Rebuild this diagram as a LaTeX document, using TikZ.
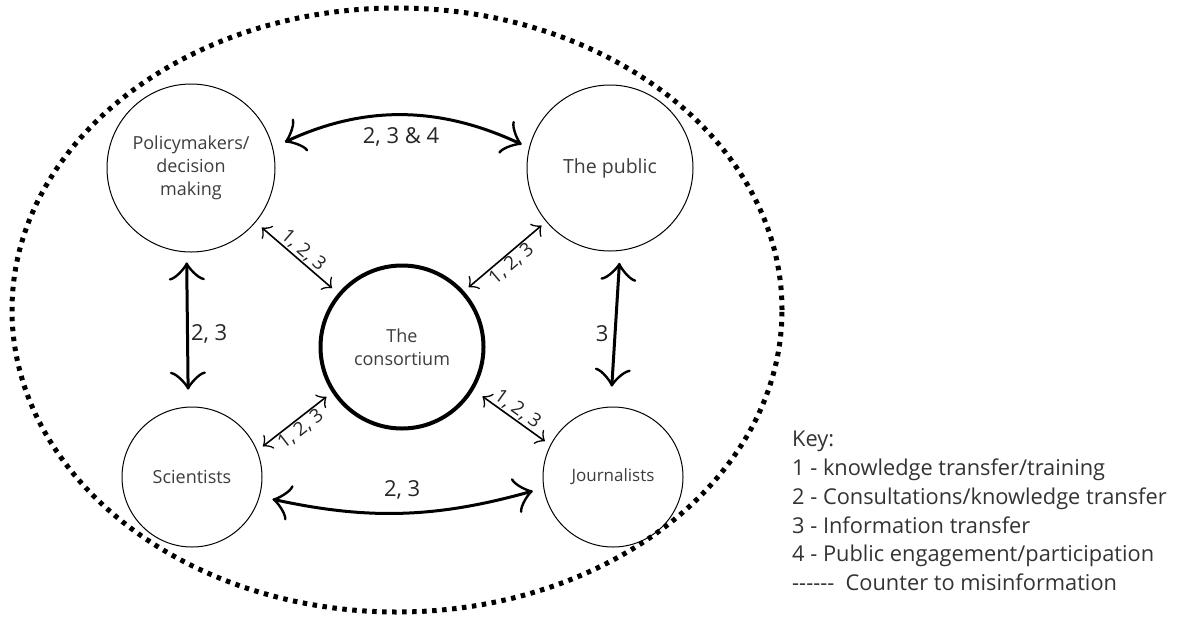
\documentclass[tikz,border=0pt]{standalone}
\usepackage{fontspec}
\setmainfont{Open Sans}
\usetikzlibrary{arrows.meta}
\begin{document}
\begin{tikzpicture}[x=1pt,y=-1pt,
  bh/.tip={Classical TikZ Rightarrow[length=18pt,width=36pt]},
  sh/.tip={Classical TikZ Rightarrow[length=8pt,width=17pt]},
  ent/.style={circle, draw, line width=1pt, inner sep=0pt, align=center, text=black!76, font=\fontsize{18}{23}\selectfont},
  bigarr/.style={line width=3pt, bh-bh},
  thinarr/.style={line width=1.6pt, sh-sh},
  lab/.style={font=\fontsize{22}{26}\selectfont, text=black!85, inner sep=2pt},
  dlab/.style={font=\fontsize{19}{22}\selectfont, text=black!85, inner sep=1pt, sloped},
  keytxt/.style={font=\fontsize{21.8}{28.8}\selectfont, text=black!80, align=left, inner sep=0pt}]
\fill[white] (0,0) rectangle (1177,619);
\useasboundingbox (0,0) rectangle (1177,619);
% dotted boundary
\draw[line width=5pt, dash pattern=on 4.5pt off 5.5pt] (397,310) ellipse [x radius=385pt, y radius=302pt];
% entities
\node[ent, minimum size=168pt] (pol) at (191,168) {Policymakers/\\decision\\making};
\node[ent, minimum size=166pt, font=\fontsize{19.5}{23}\selectfont] (pub) at (610,168) {The public};
\node[ent, minimum size=140pt] (sci) at (192,477) {Scientists};
\node[ent, minimum size=140pt, font=\fontsize{17}{23}\selectfont] (jou) at (613,477) {Journalists};
\node[ent, minimum size=163pt, line width=4pt] (con) at (402,347) {The\\consortium};
% thick arrows
\draw[bigarr, shorten <=13pt, shorten >=8pt] (pol.14) to[bend left=25] node[lab, below=8pt]{2, 3 \& 4} (pub.166);
\draw[bigarr, shorten <=13pt, shorten >=11pt] (sci.-16) to[bend right=14] node[lab, above=10pt]{2, 3} (jou.-171);
\draw[bigarr, shorten <=10pt, shorten >=17pt] (pol.-93) -- node[lab, right, pos=0.53]{2, 3} (sci.93);
\draw[bigarr, shorten <=12pt, shorten >=20pt] (pub.-83) -- node[lab, left=3pt, pos=0.53]{3} (jou.92);
% thin arrows
\draw[thinarr, shorten <=8pt, shorten >=8pt] (pol.-40) -- node[dlab, above]{1, 2, 3} (con.140);
\draw[thinarr, shorten <=6pt, shorten >=6pt] (pub.-140) -- node[dlab, below]{1, 2, 3} (con.42);
\draw[thinarr, shorten <=7pt, shorten >=7pt] (con.-147) -- node[dlab, below]{1, 2, 3} (sci.22);
\draw[thinarr, shorten <=11pt, shorten >=6.5pt] (con.-31) -- node[dlab, above]{1, 2, 3} (jou.153);
% key
\node[keytxt, anchor=north west] (key) at (792,431) {Key:\\1 - knowledge transfer/training\\2 - Consultations/knowledge transfer\\3 - Information transfer\\4 - Public engagement/participation\\-{}-{}-{}-{}-{}-\ \ Counter to misinformation};
\end{tikzpicture}
\end{document}
